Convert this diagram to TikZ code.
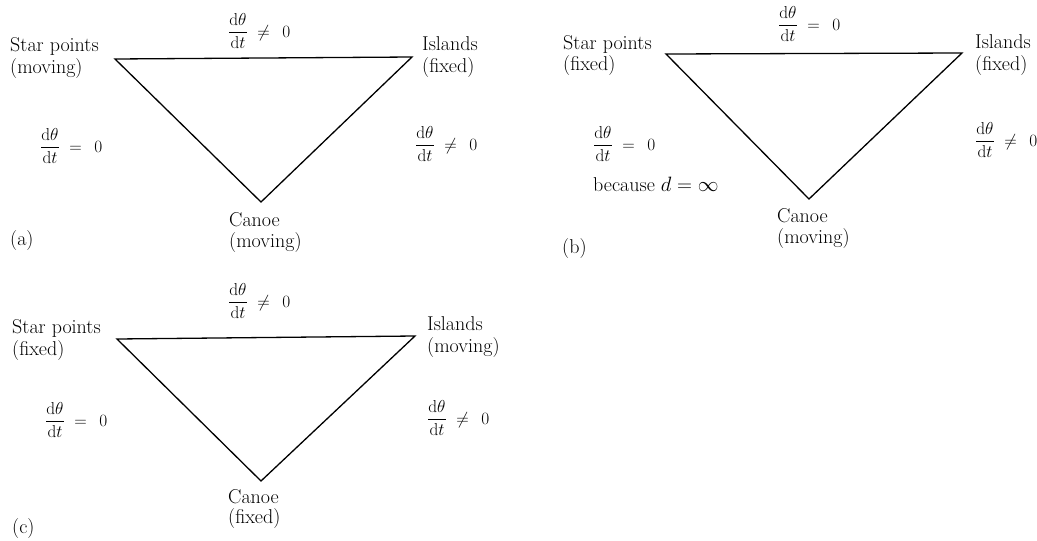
\documentclass[tikz,border=0pt]{standalone}
\usepackage{amsmath}
\newcommand{\ddrate}{\displaystyle\frac{\mathrm{d}\theta}{\mathrm{d}t}}
\begin{document}
\begin{tikzpicture}[x=1pt,y=-1pt,
  txt/.style={anchor=base west,inner sep=0pt,font=\fontsize{20}{22}\selectfont},
  rate/.style={anchor=base west,inner sep=0pt,font=\fontsize{16.5}{18}\selectfont},
  tri/.style={line width=1.3pt,line join=miter}]
\useasboundingbox (0,0) rectangle (1037,541);
% ---------- (a) ----------
\coordinate (aS) at (115,59);
\coordinate (aI) at (412,57);
\coordinate (aC) at (261,202);
\draw[tri] (aS) -- (aI) -- (aC) -- cycle;
\node[txt] (aS1) at (10,51) {Star points};
\node[txt] (aS2) at (10,73) {(moving)};
\node[txt] (aI1) at (422,50) {Islands};
\node[txt] (aI2) at (422,72) {(fixed)};
\node[txt] (aC1) at (229,226) {Canoe};
\node[txt] (aC2) at (229,247) {(moving)};
\node[rate] (aT) at (228,37) {$\ddrate\;\neq\;\,0$};
\node[rate] (aL) at (40,152) {$\ddrate\;=\;\,0$};
\node[rate] (aR) at (415,150) {$\ddrate\;\neq\;\,0$};
\node[txt] (aLab) at (10,245) {(a)};
% ---------- (b) ----------
\coordinate (bS) at (666,54);
\coordinate (bI) at (962,53);
\coordinate (bC) at (809,199);
\draw[tri] (bS) -- (bI) -- (bC) -- cycle;
\node[txt] (bS1) at (563,49) {Star points};
\node[txt] (bS2) at (563,70) {(fixed)};
\node[txt] (bI1) at (975,48) {Islands};
\node[txt] (bI2) at (975,70) {(fixed)};
\node[txt] (bC1) at (777,222) {Canoe};
\node[txt] (bC2) at (777,243) {(moving)};
\node[rate] (bT) at (778,30) {$\ddrate\;=\;\,0$};
\node[rate] (bL) at (593,150) {$\ddrate\;=\;\,0$};
\node[txt] (bL2) at (593,191) {because $d=\infty$};
\node[rate] (bR) at (975,146) {$\ddrate\;\neq\;\,0$};
\node[txt] (bLab) at (562,253) {(b)};
% ---------- (c) ----------
\coordinate (cS) at (117,339);
\coordinate (cI) at (415,336);
\coordinate (cC) at (261,481);
\draw[tri] (cS) -- (cI) -- (cC) -- cycle;
\node[txt] (cS1) at (12,333) {Star points};
\node[txt] (cS2) at (12,355) {(fixed)};
\node[txt] (cI1) at (427,330) {Islands};
\node[txt] (cI2) at (427,352) {(moving)};
\node[txt] (cC1) at (228,503) {Canoe};
\node[txt] (cC2) at (228,523) {(fixed)};
\node[rate] (cT) at (228,307) {$\ddrate\;\neq\;\,0$};
\node[rate] (cL) at (45,426) {$\ddrate\;=\;\,0$};
\node[rate] (cR) at (427,424) {$\ddrate\;\neq\;\,0$};
\node[txt] (cLab) at (12,533) {(c)};
\end{tikzpicture}
\end{document}
